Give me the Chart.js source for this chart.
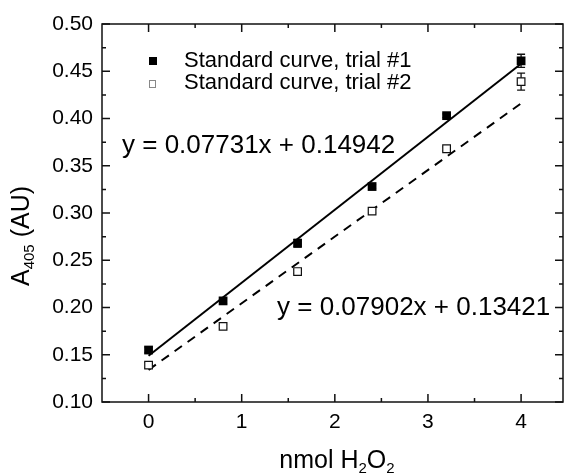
<!DOCTYPE html>
<html>
<head>
<meta charset="utf-8">
<script src="https://cdn.jsdelivr.net/npm/chart.js@4.4.1/dist/chart.umd.min.js"></script>
<style>
  html, body { margin: 0; padding: 0; background: #fff; }
  #wrap { width: 564px; height: 476px; }
</style>
</head>
<body>
<div id="wrap"><canvas id="c" width="564" height="476"></canvas></div>
<script>
// ---- data ----
const xValues   = [0, 0.8, 1.6, 2.4, 3.2, 4];
const trial1    = [0.155, 0.207, 0.268, 0.328, 0.403, 0.461];
const trial1Err = [0.003, 0.003, 0.004, 0.002, 0.002, 0.007];
const trial2    = [0.139, 0.180, 0.238, 0.302, 0.368, 0.439];
const trial2Err = [0.003, 0.002, 0.002, 0.002, 0.002, 0.009];
const fitX      = [0, 4];
const fit1      = [0.149, 0.458];
const fit2      = [0.134, 0.416];
const xTicks    = [0, 1, 2, 3, 4];
const yTicks    = [0.10, 0.15, 0.20, 0.25, 0.30, 0.35, 0.40, 0.45, 0.50];
const seriesLabels = ['Standard curve, trial #1', 'Standard curve, trial #2'];
const equations = ['y = 0.07731x + 0.14942', 'y = 0.07902x + 0.13421'];
const xTitle = ['nmol H', '2', 'O', '2'];
const yTitle = ['A', '405', ' (AU)'];

const FONT = '"Liberation Sans", Arial, Helvetica, sans-serif';
const toXY = (xs, ys) => xs.map((x, i) => ({ x: x, y: ys[i] }));

function drawMixed(ctx, parts, x, y, big, small, subShift) {
  const widths = parts.map((p, i) => {
    ctx.font = (i % 2 ? small : big) + 'px ' + FONT;
    return ctx.measureText(p).width;
  });
  const total = widths.reduce((a, b) => a + b, 0);
  let cx = x - total / 2;
  parts.forEach((p, i) => {
    ctx.font = (i % 2 ? small : big) + 'px ' + FONT;
    ctx.fillText(p, cx, y + (i % 2 ? subShift : 0));
    cx += widths[i];
  });
}

const decor = {
  id: 'decor',
  beforeDatasetsDraw(chart) {
    const ctx = chart.ctx, xs = chart.scales.x, ys = chart.scales.y;
    ctx.save();
    ctx.strokeStyle = '#111';
    ctx.lineWidth = 1.3;
    [[trial1, trial1Err], [trial2, trial2Err]].forEach(([vals, errs]) => {
      vals.forEach((v, i) => {
        const px = xs.getPixelForValue(xValues[i]);
        const top = ys.getPixelForValue(v + errs[i]);
        const bot = ys.getPixelForValue(v - errs[i]);
        ctx.beginPath();
        ctx.moveTo(px, top); ctx.lineTo(px, bot);
        ctx.moveTo(px - 4, top); ctx.lineTo(px + 4, top);
        ctx.moveTo(px - 4, bot); ctx.lineTo(px + 4, bot);
        ctx.stroke();
      });
    });
    ctx.restore();
  },
  afterDraw(chart) {
    const ctx = chart.ctx, a = chart.chartArea;
    const xs = chart.scales.x, ys = chart.scales.y;
    ctx.save();
    ctx.strokeStyle = '#111';
    ctx.lineWidth = 1.5;
    ctx.strokeRect(a.left, a.top, a.right - a.left, a.bottom - a.top);
    ctx.beginPath();
    yTicks.forEach((v, i) => {
      const py = ys.getPixelForValue(v);
      ctx.moveTo(a.left, py); ctx.lineTo(a.left + 8, py);
      ctx.moveTo(a.right, py); ctx.lineTo(a.right - 8, py);
      if (i < yTicks.length - 1) {
        const pm = ys.getPixelForValue((v + yTicks[i + 1]) / 2);
        ctx.moveTo(a.left, pm); ctx.lineTo(a.left + 4, pm);
        ctx.moveTo(a.right, pm); ctx.lineTo(a.right - 4, pm);
      }
    });
    xTicks.forEach((v, i) => {
      const px = xs.getPixelForValue(v);
      ctx.moveTo(px, a.bottom); ctx.lineTo(px, a.bottom - 8);
      ctx.moveTo(px, a.top); ctx.lineTo(px, a.top + 8);
      if (i < xTicks.length - 1) {
        const pm = xs.getPixelForValue((v + xTicks[i + 1]) / 2);
        ctx.moveTo(pm, a.bottom); ctx.lineTo(pm, a.bottom - 4);
        ctx.moveTo(pm, a.top); ctx.lineTo(pm, a.top + 4);
      }
    });
    ctx.stroke();

    // legend
    ctx.fillStyle = '#000';
    ctx.textBaseline = 'middle';
    ctx.textAlign = 'left';
    ctx.font = '22px ' + FONT;
    ctx.fillRect(149, 57, 8, 8);
    ctx.fillText(seriesLabels[0], 184, 61);
    ctx.strokeStyle = '#888';
    ctx.lineWidth = 1;
    ctx.strokeRect(149.5, 80.5, 6, 7);
    ctx.fillText(seriesLabels[1], 184, 83);

    // equations
    ctx.textBaseline = 'alphabetic';
    ctx.font = '26px ' + FONT;
    ctx.fillText(equations[0], 122, 153);
    ctx.fillText(equations[1], 277, 315);

    // x axis title
    drawMixed(ctx, xTitle, 337, 468, 25, 15, 5);

    // y axis title (rotated)
    ctx.save();
    ctx.translate(29, 236);
    ctx.rotate(-Math.PI / 2);
    drawMixed(ctx, yTitle, 0, 0, 25, 15, 5);
    ctx.restore();

    ctx.restore();
  }
};

new Chart(document.getElementById('c'), {
  data: {
    datasets: [
      { type: 'line', data: toXY(fitX, fit1), borderColor: '#000', borderWidth: 2,
        pointRadius: 0, fill: false, order: 3 },
      { type: 'line', data: toXY(fitX, fit2), borderColor: '#000', borderWidth: 2,
        borderDash: [9, 7], pointRadius: 0, fill: false, order: 3 },
      { type: 'scatter', label: seriesLabels[0], data: toXY(xValues, trial1),
        pointStyle: 'rect', pointRadius: 6.2, backgroundColor: '#000', borderColor: '#000',
        borderWidth: 0, order: 1 },
      { type: 'scatter', label: seriesLabels[1], data: toXY(xValues, trial2),
        pointStyle: 'rect', pointRadius: 5.4, backgroundColor: '#fff', borderColor: '#111',
        borderWidth: 1.2, order: 2 }
    ]
  },
  options: {
    responsive: false,
    animation: false,
    devicePixelRatio: 1,
    layout: { autoPadding: false, padding: { top: 24, right: 1, left: 0, bottom: 0 } },
    plugins: { legend: { display: false }, tooltip: { enabled: false } },
    scales: {
      x: {
        type: 'linear', position: 'bottom', min: -0.5, max: 4.45,
        grid: { display: false, drawTicks: false },
        border: { display: false },
        afterBuildTicks: s => { s.ticks = xTicks.map(v => ({ value: v })); },
        afterFit: s => { s.height = 74; s.paddingLeft = 0; s.paddingRight = 0; },
        ticks: { padding: 8, color: '#000', maxRotation: 0,
                 font: { family: FONT, size: 21 }, callback: v => String(v) }
      },
      y: {
        type: 'linear', min: 0.10, max: 0.50,
        grid: { display: false, drawTicks: false },
        border: { display: false },
        afterBuildTicks: s => { s.ticks = yTicks.map(v => ({ value: v })); },
        afterFit: s => { s.width = 102; s.paddingTop = 0; s.paddingBottom = 0; },
        ticks: { padding: 9, color: '#000',
                 font: { family: FONT, size: 21 }, callback: v => Number(v).toFixed(2) }
      }
    }
  },
  plugins: [decor]
});
</script>
</body>
</html>
